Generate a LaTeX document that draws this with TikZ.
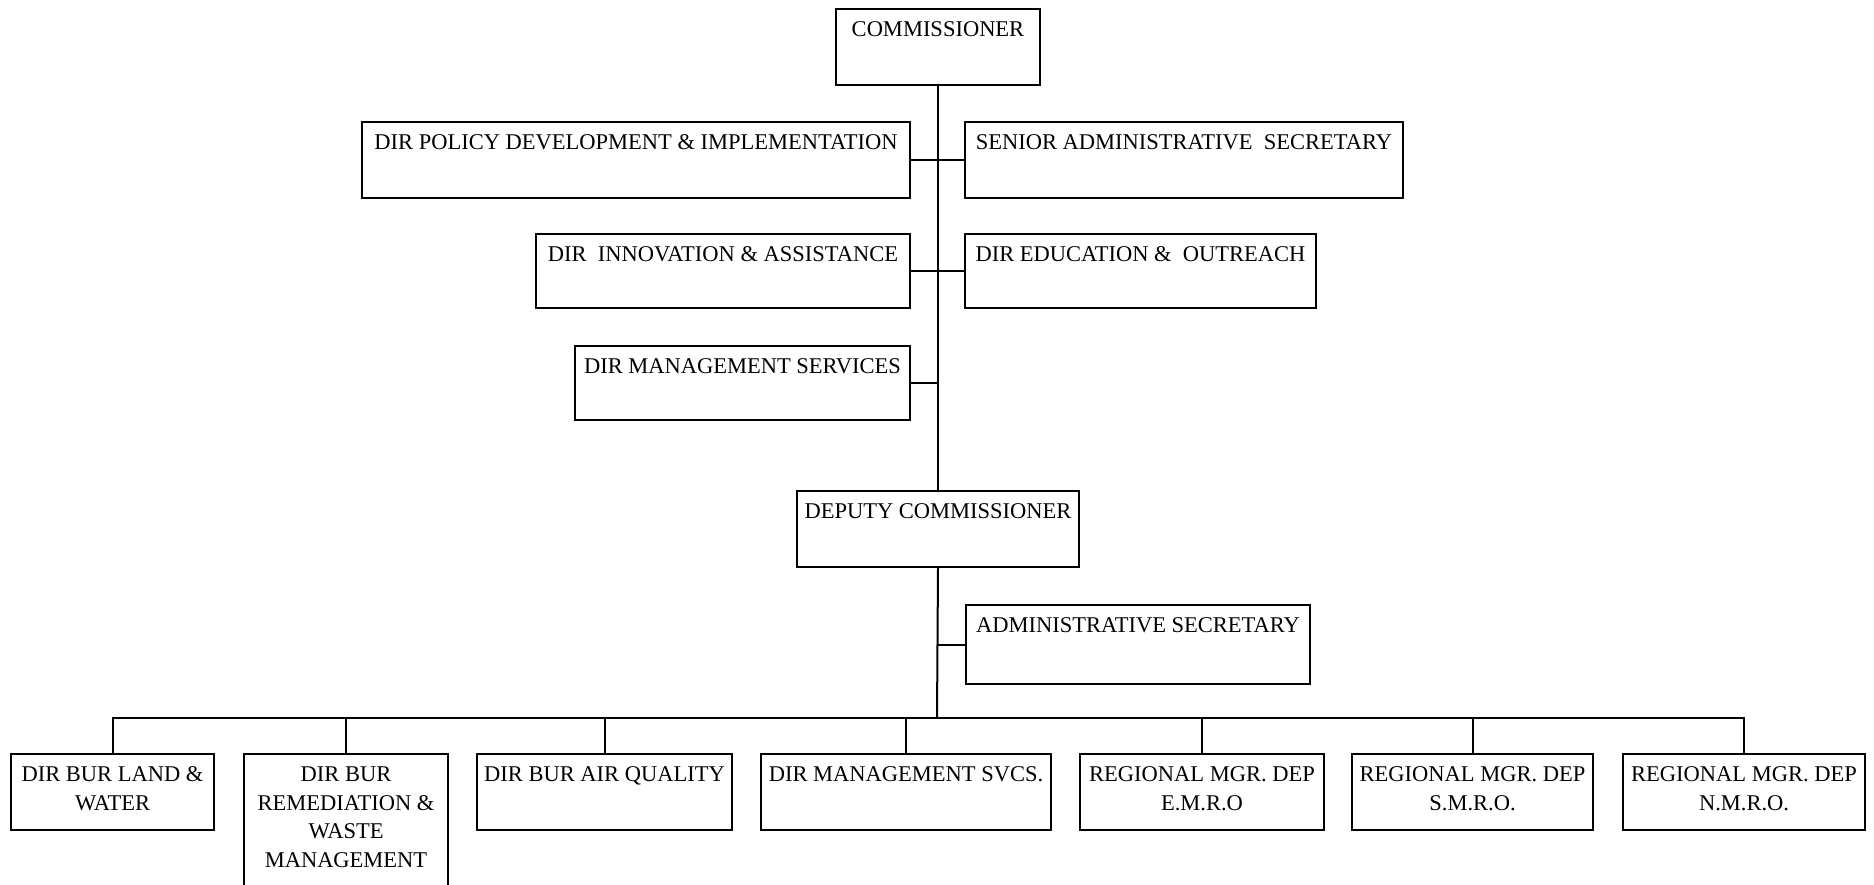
\documentclass[tikz,border=0pt]{standalone}
\usepackage{fontspec}
\setmainfont{Liberation Serif}
\tikzset{
  obox/.style={draw, line width=2pt, rectangle, inner sep=0pt, anchor=north west,
    font=\fontsize{22.5}{28.5}\selectfont},
  wire/.style={line width=2pt}
}
\newcommand{\orgbox}[6]{%
  \node[obox, minimum width={#4-#2}, minimum height={#5-#3}] (#1) at (#2,#3)
    {\parbox[c][\dimexpr#5pt-#3pt\relax][t]{\dimexpr#4pt-#2pt\relax}{\vspace*{13pt}\centering #6}};}
\begin{document}
\begin{tikzpicture}[x=1pt,y=-1pt]
\useasboundingbox (0,0) rectangle (1874,884);
\orgbox{com}{835}{8}{1039}{84}{COMMISSIONER}
\orgbox{pol}{361}{121}{909}{197}{DIR POLICY DEVELOPMENT \& IMPLEMENTATION}
\orgbox{sen}{964}{121}{1402}{197}{SENIOR ADMINISTRATIVE\ \ SECRETARY}
\orgbox{inn}{535}{233}{909}{307}{DIR\ \ INNOVATION \& ASSISTANCE}
\orgbox{edu}{964}{233}{1315}{307}{DIR EDUCATION \&\ \ OUTREACH}
\orgbox{mgs}{574}{345}{909}{419}{DIR MANAGEMENT SERVICES}
\orgbox{dep}{796}{490}{1078}{566}{DEPUTY COMMISSIONER}
\orgbox{adm}{965}{604}{1309}{683}{ADMINISTRATIVE SECRETARY}
\orgbox{b1}{10}{753}{213}{829}{DIR BUR LAND \&\\ WATER}
\orgbox{b2}{243}{753}{447}{900}{DIR BUR\\ REMEDIATION \&\\ WASTE\\ MANAGEMENT}
\orgbox{b3}{476}{753}{731}{829}{DIR BUR AIR QUALITY}
\orgbox{b4}{760}{753}{1050}{829}{DIR MANAGEMENT SVCS.}
\orgbox{b5}{1079}{753}{1323}{829}{REGIONAL MGR. DEP\\ E.M.R.O}
\orgbox{b6}{1351}{753}{1592}{829}{REGIONAL MGR. DEP\\ S.M.R.O.}
\orgbox{b7}{1622}{753}{1864}{829}{REGIONAL MGR. DEP\\ N.M.R.O.}
\coordinate (bus) at (937,718);
\draw[wire] (com.south) -- (dep.north);
\draw[wire] (pol.east) -- (sen.west);
\draw[wire] (inn.east) -- (edu.west);
\draw[wire] (mgs.east) -- (mgs.east -| com.south);
\draw[wire] (adm.west) -- (adm.west -| dep.south);
\draw[wire] (dep.south) -- (bus);
\draw[wire] (b1.north) -- (b1.north |- bus) -- (b7.north |- bus) -- (b7.north);
\foreach \b in {b2,b3,b4,b5,b6}{\draw[wire] (\b.north) -- (\b.north |- bus);}
\end{tikzpicture}
\end{document}
